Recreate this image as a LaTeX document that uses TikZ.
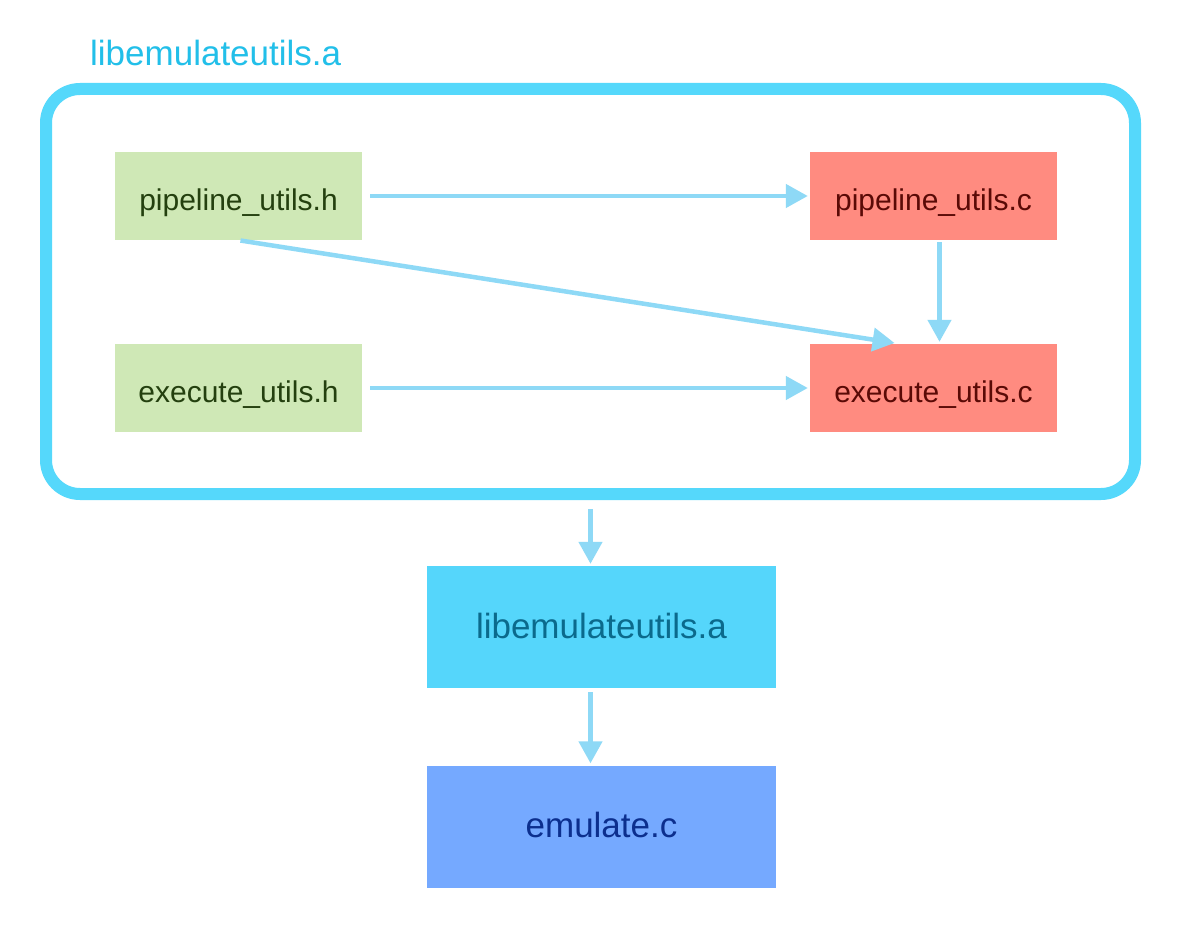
\documentclass[tikz,border=0pt]{standalone}
\usepackage{fontspec}
\setmainfont{Liberation Sans}
\usetikzlibrary{arrows.meta}
\definecolor{titlecol}{HTML}{22BFE9}
\definecolor{bordercol}{HTML}{55D8FB}
\definecolor{arrcol}{HTML}{8ED9F6}
\definecolor{hfill}{HTML}{CFE8B6}
\definecolor{htext}{HTML}{24400F}
\definecolor{cfill}{HTML}{FF8B80}
\definecolor{ctext}{HTML}{5A0A06}
\definecolor{libfill}{HTML}{55D6FB}
\definecolor{libtext}{HTML}{0B6A8C}
\definecolor{emfill}{HTML}{75A9FF}
\definecolor{emtext}{HTML}{0C2F8E}
\tikzset{
  smallbox/.style={inner sep=0pt, minimum width=247pt, minimum height=88pt, text height=28pt, text depth=0pt, font=\fontsize{30}{34}\selectfont},
  hbox/.style={smallbox, fill=hfill, text=htext},
  cbox/.style={smallbox, fill=cfill, text=ctext},
  bigbox/.style={inner sep=0pt, minimum width=349pt, minimum height=122pt, text height=22pt, text depth=0pt, font=\fontsize{35}{40}\selectfont},
  arr/.style={draw=arrcol, line width=4.5pt, -{Triangle[length=22pt,width=23pt]}, shorten <=8pt, shorten >=2pt},
}
\begin{document}
\begin{tikzpicture}[x=1pt,y=-1pt]
\fill[white] (0,0) rectangle (1184,942);
\useasboundingbox (0,0) rectangle (1184,942);
\node[draw=bordercol, line width=12pt, rounded corners=34pt, minimum width=1089pt, minimum height=405pt, inner sep=0pt] (cluster) at (590.5,291.5) {};
\node[anchor=base west, text=titlecol, inner sep=0pt, font=\fontsize{35}{40}\selectfont] (title) at (90,66) {libemulateutils.a};
\node[hbox] (ph) at (238.5,196) {pipeline\_utils.h};
\node[hbox] (eh) at (238.5,388) {execute\_utils.h};
\node[cbox] (pc) at (933.5,196) {pipeline\_utils.c};
\node[cbox] (ec) at (933.5,388) {execute\_utils.c};
\node[bigbox, fill=libfill, text=libtext] (lib) at (601.5,627) {libemulateutils.a};
\node[bigbox, fill=emfill, text=emtext] (em) at (601.5,826.5) {emulate.c};
\draw[arr] (ph.east) -- (pc.west);
\draw[arr] (eh.east) -- (ec.west);
\draw[arr, shorten <=2pt, shorten >=5pt] (ph.south) -- ([xshift=-34pt]ec.north);
\draw[arr, shorten <=2pt] ([xshift=6pt]pc.south) -- ([xshift=6pt]ec.north);
\draw[arr, shorten <=9pt] (cluster.south) -- (cluster.south |- lib.north);
\draw[arr, shorten <=4pt] (cluster.south |- lib.south) -- (cluster.south |- em.north);
\end{tikzpicture}
\end{document}
